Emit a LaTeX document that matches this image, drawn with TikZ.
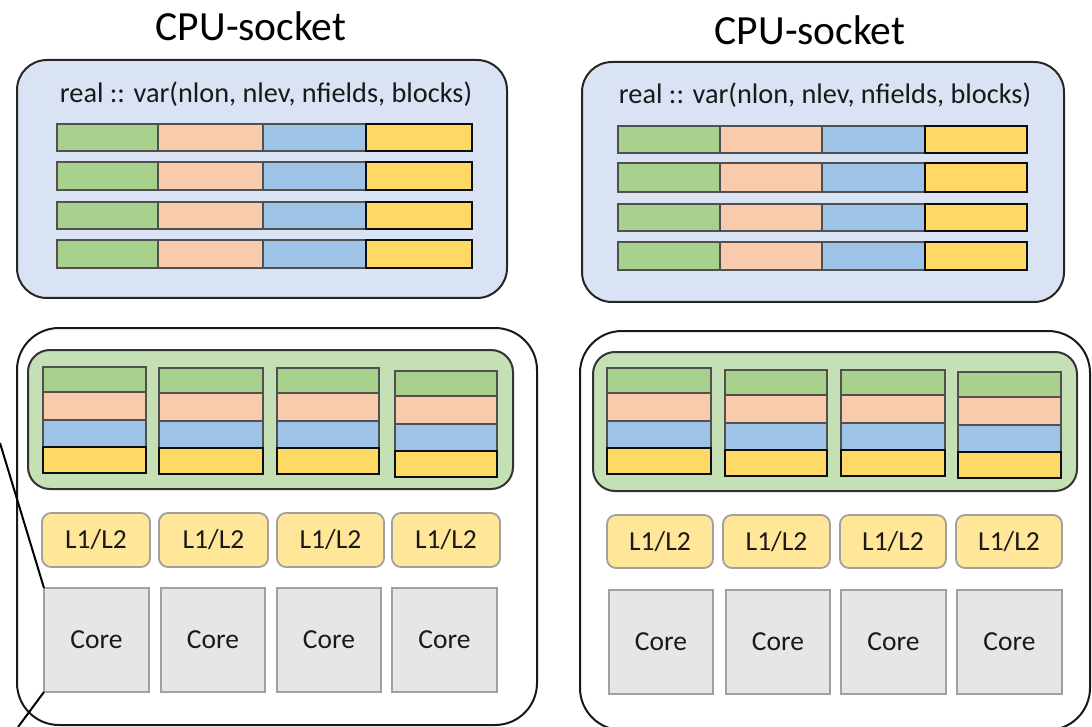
\documentclass[tikz,border=0pt]{standalone}
\usepackage{fontspec}
\setmainfont{Carlito}

\definecolor{memblue}{HTML}{DAE3F3}
\definecolor{cachegreen}{HTML}{C5E0B4}
\definecolor{fgreen}{HTML}{A9D18E}
\definecolor{fpeach}{HTML}{F8CBAD}
\definecolor{fblue}{HTML}{9DC3E6}
\definecolor{fyellow}{HTML}{FFD966}
\definecolor{cachelevel}{HTML}{FFE699}
\definecolor{coregray}{HTML}{E6E6E6}
\definecolor{edgegray}{HTML}{A0A0A0}
\definecolor{celledge}{HTML}{505050}

% rectangle node from its corners: name, style, x1, y1, x2, y2, text
\newcommand\blk[7]{%
  \node[#2, minimum width={(#5)-(#3)}, minimum height={(#6)-(#4)}]
    (#1) at ({((#3)+(#5))/2},{((#4)+(#6))/2}) {#7};}

\tikzset{
  every node/.style={inner sep=0pt, outer sep=0pt},
  title/.style={font=\fontsize{41.5}{48}\selectfont, text=black},
  codetext/.style={font=\fontsize{28.3}{34}\selectfont, text=black!90},
  socketbox/.style={draw=black!85, line width=2pt, rounded corners=30pt, fill=memblue},
  outerbox/.style={draw=black!90, line width=2pt, rounded corners=42pt, fill=white},
  cachebox/.style={draw=black!80, line width=2pt, rounded corners=22pt, fill=cachegreen},
  cellg/.style={draw=celledge, line width=2pt, fill=fgreen},
  cellp/.style={draw=celledge, line width=2pt, fill=fpeach},
  cellb/.style={draw=celledge, line width=2pt, fill=fblue},
  celly/.style={draw=black!95, line width=2.6pt, fill=fyellow},
  levelbox/.style={draw=edgegray, line width=1.8pt, rounded corners=9pt, fill=cachelevel,
    font=\fontsize{27.5}{32}\selectfont, text=black!90},
  corebox/.style={draw=edgegray, line width=2.2pt, fill=coregray,
    font=\fontsize{27.5}{32}\selectfont, text=black!90},
  link/.style={draw=black, line width=2pt}
}

\begin{document}
\begin{tikzpicture}[x=1pt,y=-1pt]
\clip (0,0) rectangle (1092,727);

% ---------- socket titles ----------
\node[title] (title1) at (251,26) {CPU-socket};
\node[title] (title2) at (810,30) {CPU-socket};

% ---------- memory boxes with the array layout ----------
\blk{mem1}{socketbox}{17}{60}{507}{298}{}
\blk{mem2}{socketbox}{582}{62}{1064}{302}{}
\node[codetext] (decl1) at (266,94) {real :: var(nlon, nlev, nfields, blocks)};
\node[codetext] (decl2) at (825,95) {real :: var(nlon, nlev, nfields, blocks)};

\foreach \r/\ya/\yb in {1/124/151, 2/162/190, 3/202/229, 4/240/268}{
  \blk{ma\r g}{cellg}{57}{\ya}{158}{\yb}{}
  \blk{ma\r p}{cellp}{158}{\ya}{263}{\yb}{}
  \blk{ma\r b}{cellb}{263}{\ya}{366}{\yb}{}
  \blk{ma\r y}{celly}{366}{\ya}{472}{\yb}{}
}
\foreach \r/\ya/\yb in {1/126/153, 2/163/192, 3/204/231, 4/242/270}{
  \blk{mb\r g}{cellg}{618}{\ya}{720}{\yb}{}
  \blk{mb\r p}{cellp}{720}{\ya}{822}{\yb}{}
  \blk{mb\r b}{cellb}{822}{\ya}{925}{\yb}{}
  \blk{mb\r y}{celly}{925}{\ya}{1027}{\yb}{}
}

% ---------- processor dies ----------
\blk{die1}{outerbox}{17}{328}{537}{725}{}
\blk{die2}{outerbox}{580}{331}{1090}{730}{}

% shared caches
\blk{llc1}{cachebox}{28}{350}{513}{489}{}
\blk{llc2}{cachebox}{593}{352}{1077}{491}{}

% cached blocks, one stack per core
\foreach \k/\xa/\xb/\t in {1/43/146/367, 2/159/263/368, 3/277/379/368, 4/395/497/371,
                           5/607/711/368, 6/725/827/370, 7/841/945/370, 8/958/1061/372}{
  \blk{s\k g}{cellg}{\xa}{\t}{\xb}{\t+25}{}
  \blk{s\k p}{cellp}{\xa}{\t+25}{\xb}{\t+53}{}
  \blk{s\k b}{cellb}{\xa}{\t+53}{\xb}{\t+80}{}
  \blk{s\k y}{celly}{\xa}{\t+80}{\xb}{\t+106}{}
}

% private caches
\foreach \k/\xa/\xb/\ya/\yb in {1/42/150/513/567, 2/159/268/513/567, 3/277/384/513/567, 4/392/500/513/567,
                                5/607/713/515/568, 6/723/830/515/568, 7/840/946/515/568, 8/956/1062/515/568}{
  \blk{l\k}{levelbox}{\xa}{\ya}{\xb}{\yb}{L1/L2}
}

% cores
\foreach \k/\xa/\xb/\ya/\yb in {1/44/149/588/692, 2/161/265/588/692, 3/277/381/588/692, 4/392/497/588/692,
                                5/609/713/590/694, 6/726/830/590/694, 7/841/946/590/694, 8/957/1062/590/694}{
  \blk{c\k}{corebox}{\xa}{\ya}{\xb}{\yb}{\raisebox{-3pt}{Core}}
}

% zoom lines leading to the first core
\coordinate (zoomtop) at (0,443);
\coordinate (zoombot) at (18,727);
\draw[link] (zoomtop) -- (c1.north west);
\draw[link] (c1.south west) -- (zoombot);
\end{tikzpicture}
\end{document}
